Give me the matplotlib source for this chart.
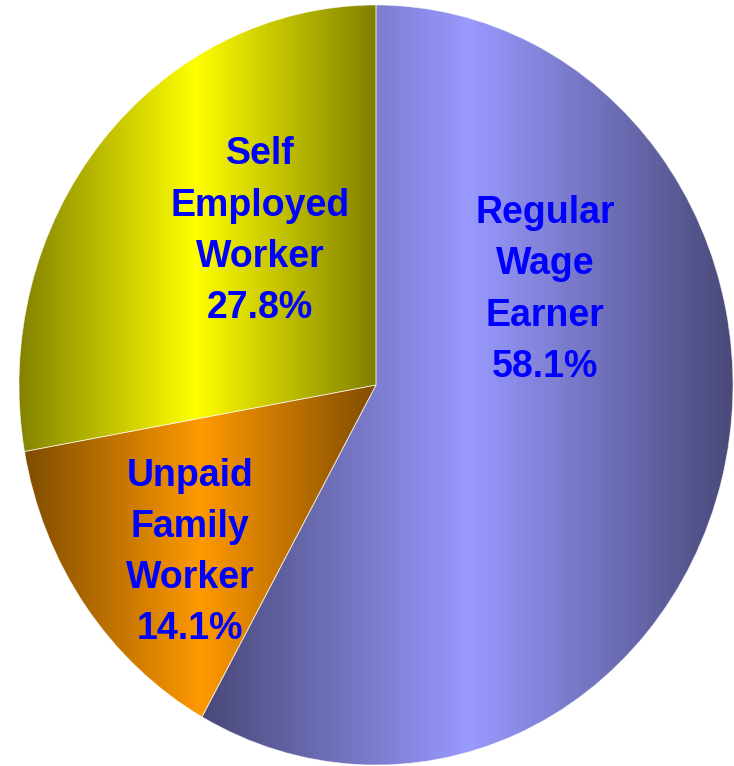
import numpy as np
import matplotlib
matplotlib.use('Agg')
import matplotlib.pyplot as plt

# data
categories = ['Regular Wage Earner', 'Unpaid Family Worker', 'Self Employed Worker']
shares = [58.1, 14.1, 27.8]
label_lines = [['Regular', 'Wage', 'Earner'], ['Unpaid', 'Family', 'Worker'], ['Self', 'Employed', 'Worker']]

# style
colors = [(153, 153, 255), (255, 153, 0), (255, 255, 0)]
dark = [0.47, 0.5, 0.5]
label_pos = [(0.473, 0.25), (-0.521, -0.44), (-0.325, 0.405)]

plt.rcParams['font.family'] = ['Liberation Sans', 'DejaVu Sans']

fig = plt.figure(figsize=(7.34, 7.66), dpi=100)
ax = fig.add_axes([0, 0, 1, 1])
ax.set_xlim(-376 / 357, (734 - 376) / 357)
ax.set_ylim(-381 / 380, 385 / 380)
ax.set_aspect('auto')
ax.axis('off')

wedges, _ = ax.pie(shares, startangle=90, counterclock=False, radius=1,
                   colors=['none'] * 3,
                   wedgeprops=dict(linewidth=0.6, edgecolor=(1, 1, 1, 0.6)))

# horizontal "cylinder" gradient in each wedge
for w, c, d in zip(wedges, colors, dark):
    v = w.get_path().vertices
    x0, x1 = v[:, 0].min(), v[:, 0].max()
    y0, y1 = v[:, 1].min(), v[:, 1].max()
    t = np.linspace(0, 1, 400)
    f = d + (1 - d) * (1 - np.abs(2 * t - 1))
    img = np.array(c)[None, None, :] / 255.0 * f[None, :, None]
    im = ax.imshow(img, extent=[x0, x1, y0, y1], aspect='auto', zorder=1,
                   interpolation='bilinear')
    im.set_clip_path(w)
    w.set_zorder(2)

ax.set_xlim(-376 / 357, (734 - 376) / 357)
ax.set_ylim(-381 / 380, 385 / 380)

for lines, s, (lx, ly) in zip(label_lines, shares, label_pos):
    txt = '\n'.join(lines + ['%.1f%%' % s])
    ax.text(lx, ly, txt, ha='center', va='center', color='#0000FF',
            fontsize=27, fontweight='bold', linespacing=1.54, zorder=5)

fig.savefig('out.png', dpi=100)
